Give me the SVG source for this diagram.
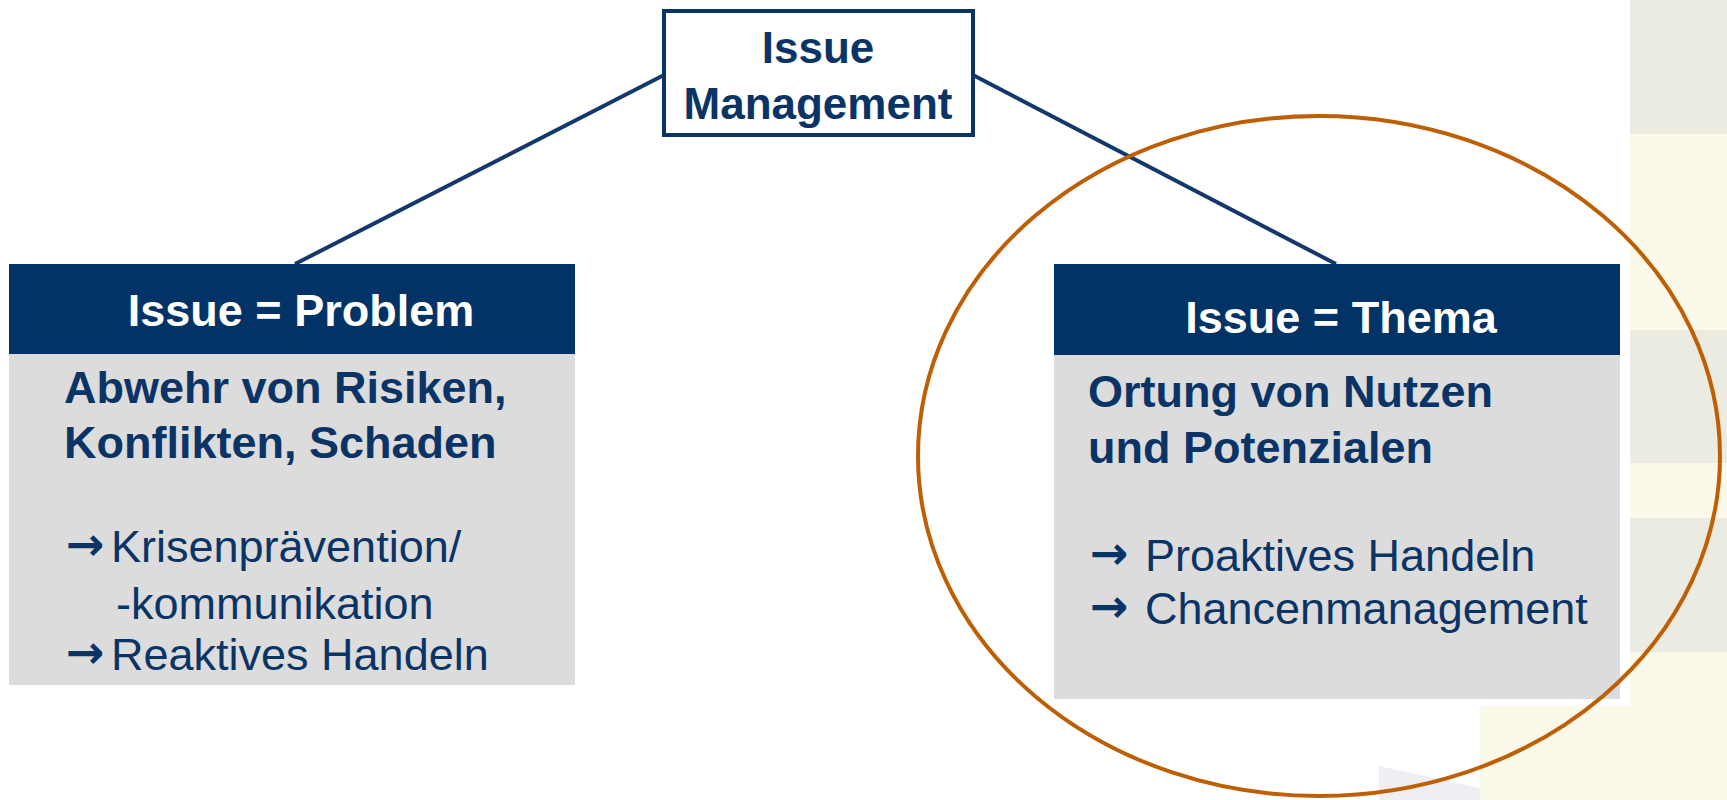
<svg xmlns="http://www.w3.org/2000/svg" width="1727" height="800" viewBox="0 0 1727 800">
  <style>
    .navy { fill: #0b3466; }
    .head { fill: #023366; }
    .body { fill: #dcdcdc; }
    .t { font-family: "Liberation Sans", Arial, sans-serif; font-size: 45px; }
    .h { font-size: 44px; }
    .b { font-weight: bold; }
    .w { fill: #ffffff; }
    .c { text-anchor: middle; }
    .arr { font-family: "DejaVu Sans", sans-serif; font-size: 46px; font-weight: bold; }
    .link { stroke: #15386a; stroke-width: 4; fill: none; }
  </style>

  <!-- page background -->
  <rect x="0" y="0" width="1727" height="800" fill="#ffffff"/>

  <!-- striped side panel -->
  <g id="side-panel">
    <rect x="1630" y="0" width="97" height="134" fill="#ebebe1"/>
    <rect x="1630" y="134" width="97" height="196" fill="#fbf9e9"/>
    <rect x="1630" y="330" width="97" height="133" fill="#ebebe1"/>
    <rect x="1630" y="463" width="97" height="55" fill="#fbf9e9"/>
    <rect x="1630" y="518" width="97" height="134" fill="#ebebe1"/>
    <rect x="1630" y="652" width="97" height="148" fill="#fbf9e9"/>
    <rect x="1480" y="706" width="150" height="94" fill="#fbf9e9"/>
    <polygon points="1379,766 1480,788 1480,800 1379,800" fill="#eeeef3"/>
  </g>

  <!-- connectors -->
  <g id="connectors">
    <line class="link" x1="295" y1="264" x2="664" y2="75"/>
    <line class="link" x1="973" y1="75" x2="1336" y2="264"/>
  </g>

  <!-- root node -->
  <g id="issue-management">
    <rect x="664" y="11" width="309" height="124" fill="#ffffff" stroke="#0b3466" stroke-width="4"/>
    <text class="t h b c navy" x="818" y="63">Issue</text>
    <text class="t h b c navy" x="818" y="119">Management</text>
  </g>

  <!-- left branch -->
  <g id="issue-problem">
    <rect class="body" x="9" y="354" width="566" height="331"/>
    <rect class="head" x="9" y="264" width="566" height="90"/>
    <text class="t b c w" x="301" y="326">Issue = Problem</text>
    <text class="t b navy" x="64" y="403">Abwehr von Risiken,</text>
    <text class="t b navy" x="64" y="458">Konflikten, Schaden</text>
    <text class="arr navy" x="66" y="560">→</text>
    <text class="t navy" x="111" y="562">Krisenprävention/</text>
    <text class="t navy" x="116" y="619">-kommunikation</text>
    <text class="arr navy" x="66" y="668">→</text>
    <text class="t navy" x="111" y="670">Reaktives Handeln</text>
  </g>

  <!-- right branch -->
  <g id="issue-thema">
    <rect class="body" x="1054" y="354" width="566" height="345"/>
    <rect class="head" x="1054" y="264" width="566" height="91"/>
    <text class="t b c w" x="1341" y="333">Issue = Thema</text>
    <text class="t b navy" x="1088" y="407">Ortung von Nutzen</text>
    <text class="t b navy" x="1088" y="463">und Potenzialen</text>
    <text class="arr navy" x="1090" y="569">→</text>
    <text class="t navy" x="1145" y="571">Proaktives Handeln</text>
    <text class="arr navy" x="1090" y="622">→</text>
    <text class="t navy" x="1145" y="624">Chancenmanagement</text>
  </g>

  <!-- highlight ring -->
  <ellipse id="highlight" cx="1319" cy="456" rx="401" ry="340" fill="none" stroke="#bf5f05" stroke-width="4"/>
</svg>
